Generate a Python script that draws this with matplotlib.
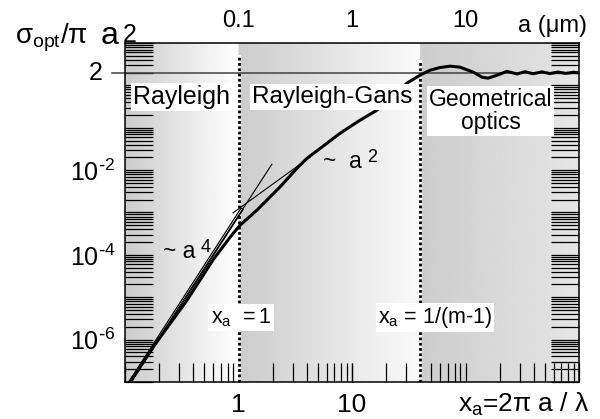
import numpy as np
import matplotlib
matplotlib.use("Agg")
import matplotlib.pyplot as plt
from matplotlib import ticker
import matplotlib.transforms as mtransforms

plt.rcParams['font.family'] = ['Liberation Sans', 'DejaVu Sans']
plt.rcParams['mathtext.default'] = 'regular'

# optical cross section / geometric cross section vs size parameter xa
xa_curve = [0.11, 0.177, 0.352, 0.596, 0.842, 1.03, 1.46, 2.32, 3.34, 4.01, 5.2, 7.84, 11.5,
            16.6, 23.0, 30.5, 39.7, 48.7, 59.5, 73, 89.3, 117, 140, 158, 190, 232,
            284, 334, 393, 472, 555, 652, 766, 900, 1000]
q_curve = [1.0e-7, 6.7e-7, 8.5e-6, 7.6e-5, 2.6e-4, 5.0e-4, 1.15e-3, 4.0e-3, 1.17e-2, 1.9e-2,
           3.2e-2, 7.4e-2, 0.145, 0.26, 0.55, 1.13, 1.74, 2.28, 2.63, 2.84, 2.69, 2.05,
           1.56, 1.48, 1.74, 2.14, 1.86, 2.10, 1.88, 2.08, 1.90, 2.06, 1.92, 2.04, 1.97]

# small-particle asymptotes
a4_x = [0.111, 1.97]
a4_y = [1.0e-7, 1.38e-2]
a4_double_x = [0.111, 1.06]
a4_double_y = [1.0e-7, 1.15e-3]
a2_x = [0.895, 4.27]
a2_y = [9.8e-4, 2.03e-2]

# regime boundaries (xa = 1 and xa = 1/(m-1))
bound_x = [1.0, 40.0]
bound_top = [4.6, 3.5]
geo_limit = 2.0

bottom_ticks = [1, 10]
bottom_labels = ['1', '10']
top_ticks = [0.1, 1, 10]          # a in micron, a = xa / 10
top_labels = ['0.1', '1', '10']
y_ticks = [1e-6, 1e-4, 1e-2]
y_labels = [r'$10^{\text{-}6}$', r'$10^{\text{-}4}$', r'$10^{\text{-}2}$']

fig = plt.figure(figsize=(6.0, 4.19), dpi=100)
rect = [125 / 600, 37 / 419, 454 / 600, 339 / 419]

# grey shading of the three regimes
bg = fig.add_axes(rect, zorder=0)
cols = np.linspace(-1, 3, 800)
stops_x = [-1, -0.001, 0.0, 1.599, 1.601, 3]
stops_g = [0.80, 1.0, 0.80, 0.98, 0.80, 0.90]
gray = np.interp(cols, stops_x, stops_g)
bg.imshow(gray[None, :], cmap='gray', vmin=0, vmax=1, extent=(0, 1, 0, 1),
          aspect='auto', interpolation='bilinear')
bg.axis('off')

ax = fig.add_axes(rect, zorder=1)
ax.patch.set_visible(False)
ax.set_xscale('log')
ax.set_yscale('log')

# regime boundaries
for bx, bt in zip(bound_x, bound_top):
    ax.plot([bx, bx], [1e-7, bt], color='white', lw=2.8, zorder=2)
    ax.plot([bx, bx], [1e-7, bt], color='black', lw=2.0, ls=(0, (1.0, 0.9)), zorder=2)

ax.axhline(geo_limit, xmin=-0.0286, xmax=1, color='0.25', lw=1.1, clip_on=False, zorder=2)

# asymptotes
ax.plot(a4_double_x, a4_double_y, color='black', lw=2.6, zorder=3)
ax.plot(a4_double_x, a4_double_y, color='white', lw=0.9, zorder=3)
ax.plot(a4_x, a4_y, color='black', lw=0.8, zorder=3)
ax.plot(a2_x, a2_y, color='black', lw=0.8, zorder=3)

ax.plot(xa_curve, q_curve, color='black', lw=2.2, zorder=3, solid_joinstyle='round')

ax.set_xlim(0.1, 1000)
ax.set_ylim(1e-7, 10)

ax.xaxis.set_major_locator(ticker.FixedLocator(bottom_ticks))
ax.xaxis.set_major_formatter(ticker.FixedFormatter(bottom_labels))
ax.xaxis.set_minor_locator(ticker.LogLocator(base=10, subs=np.arange(1, 10), numticks=100))
ax.xaxis.set_minor_formatter(ticker.NullFormatter())
ax.yaxis.set_major_locator(ticker.FixedLocator(y_ticks))
ax.yaxis.set_major_formatter(ticker.FixedFormatter(y_labels))
ax.yaxis.set_minor_locator(ticker.LogLocator(base=10, subs=np.arange(1, 10), numticks=100))
ax.yaxis.set_minor_formatter(ticker.NullFormatter())
ax.xaxis.remove_overlapping_locs = False
ax.yaxis.remove_overlapping_locs = False

ax.tick_params(axis='x', which='both', direction='in', top=True, bottom=True,
               length=14, width=0.9, labelsize=19, pad=8)
ax.tick_params(axis='y', which='minor', direction='in', left=True, right=True,
               length=20, width=0.9)
ax.tick_params(axis='y', which='major', direction='in', length=0, labelsize=18, pad=7)
for sp in ax.spines.values():
    sp.set_linewidth(1.1)

# top axis: particle radius in micron
ax2 = ax.twiny()
ax2.set_xscale('log')
ax2.set_xlim(0.01, 100)
ax2.xaxis.set_major_locator(ticker.FixedLocator(top_ticks))
ax2.xaxis.set_major_formatter(ticker.FixedFormatter(top_labels))
ax2.xaxis.set_minor_locator(ticker.NullLocator())
ax2.tick_params(axis='x', length=0, labelsize=17, pad=8)
for sp in ax2.spines.values():
    sp.set_visible(False)

blend = mtransforms.blended_transform_factory(ax.transAxes, ax.transData)
ax.text(-0.0485, geo_limit, '2', transform=blend, ha='right', va='center', fontsize=18)

box = dict(facecolor='white', edgecolor='none', pad=1.5)
ax.text(0.1244, 0.8407, 'Rayleigh', transform=ax.transAxes, ha='center', va='center',
        fontsize=18, bbox=box, zorder=5)
ax.text(0.456, 0.8407, 'Rayleigh-Gans', transform=ax.transAxes, ha='center', va='center',
        fontsize=17.5, bbox=box, zorder=5)
ax.text(0.8051, 0.7994, 'Geometrical\noptics', transform=ax.transAxes, ha='center',
        va='center', fontsize=16.5, linespacing=1.0, bbox=box, zorder=5)
ax.text(0.2555, 0.1903, r'$x_a\ =1$', transform=ax.transAxes, ha='center', va='center',
        fontsize=15.5, bbox=box, zorder=5)
ax.text(0.6828, 0.1903, r'$x_a$ = 1/(m-1)', transform=ax.transAxes, ha='center',
        va='center', fontsize=15.5, bbox=box, zorder=5)

t4 = ax.text(0.0837, 0.366, '~ a', transform=ax.transAxes, ha='left', va='baseline',
             fontsize=16.5, zorder=5)
ax.annotate('4', xy=(1.0, 1.0), xycoords=t4, xytext=(3.5, 1), textcoords='offset points',
            ha='left', va='top', fontsize=13, zorder=5)
t2 = ax.text(0.436, 0.631, '~  a', transform=ax.transAxes, ha='left', va='baseline',
             fontsize=16.5, zorder=5)
ax.annotate('2', xy=(1.0, 1.0), xycoords=t2, xytext=(4, 1), textcoords='offset points',
            ha='left', va='top', fontsize=13, zorder=5)

ax.text(1.024, -0.087, r'$x_a$=2π a / λ', transform=ax.transAxes, ha='right',
        va='baseline', fontsize=19)
ax.text(1.0176, 1.0324, 'a (μm)', transform=ax.transAxes, ha='right', va='baseline',
        fontsize=17)

fig.text(15 / 600, 1 - 44 / 419, r'$σ_{opt}/π$', ha='left', va='baseline', fontsize=20)
fig.text(101 / 600, 1 - 44 / 419, 'a', ha='left', va='baseline', fontsize=23)
fig.text(123 / 600, 1 - 42 / 419, '2', ha='left', va='baseline', fontsize=18)

fig.savefig('out.png', dpi=100)
